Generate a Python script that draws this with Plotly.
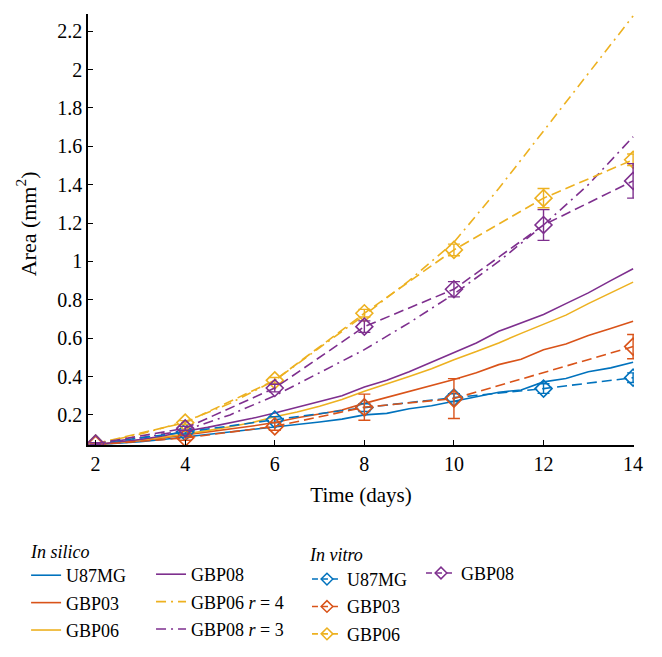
import plotly.graph_objects as go

# ---------------- data ----------------
sim_days = [2, 2.5, 3, 3.5, 4, 4.5, 5, 5.5, 6, 6.5, 7, 7.5, 8, 8.5, 9, 9.5,
            10, 10.5, 11, 11.5, 12, 12.5, 13, 13.5, 14]
sim_u87 = [0.045, 0.052, 0.060, 0.072, 0.085, 0.095, 0.108, 0.122, 0.138, 0.150,
           0.163, 0.178, 0.200, 0.208, 0.232, 0.248, 0.270, 0.295, 0.318, 0.330,
           0.372, 0.390, 0.425, 0.445, 0.474]
sim_gbp03 = [0.045, 0.055, 0.066, 0.080, 0.095, 0.110, 0.125, 0.142, 0.160, 0.185,
             0.205, 0.225, 0.260, 0.290, 0.320, 0.350, 0.384, 0.420, 0.462, 0.490,
             0.540, 0.570, 0.614, 0.650, 0.688]
sim_gbp06 = [0.045, 0.055, 0.068, 0.083, 0.100, 0.118, 0.138, 0.160, 0.190, 0.215,
             0.245, 0.280, 0.323, 0.360, 0.400, 0.440, 0.488, 0.530, 0.575, 0.625,
             0.671, 0.720, 0.780, 0.835, 0.892]
sim_gbp08 = [0.045, 0.058, 0.072, 0.090, 0.115, 0.135, 0.158, 0.182, 0.210, 0.240,
             0.268, 0.300, 0.345, 0.380, 0.425, 0.475, 0.523, 0.575, 0.636, 0.680,
             0.723, 0.780, 0.836, 0.900, 0.962]

r_days = [2, 3, 4, 5, 6, 7, 8, 9, 10, 11, 12, 13, 14]
sim_gbp06_r4 = [0.05, 0.10, 0.165, 0.26, 0.38, 0.55, 0.72, 0.90, 1.10, 1.38, 1.68, 1.98, 2.28]
sim_gbp08_r3 = [0.05, 0.08, 0.12, 0.20, 0.30, 0.42, 0.54, 0.68, 0.83, 1.00, 1.19, 1.40, 1.65]

vitro_days = [2, 4, 6, 8, 10, 12, 14]
vitro_days_gbp03 = [2, 4, 6, 8, 10, 14]
vitro_u87 = [0.050, 0.110, 0.175, 0.238, 0.290, 0.337, 0.394]
vitro_u87_err = [0.005, 0.010, 0.015, 0.020, 0.020, 0.025, 0.025]
vitro_gbp03 = [0.045, 0.080, 0.140, 0.240, 0.285, 0.556]
vitro_gbp03_err = [0.005, 0.012, 0.020, 0.068, 0.104, 0.063]
vitro_gbp06 = [0.050, 0.160, 0.380, 0.730, 1.060, 1.330, 1.530]
vitro_gbp06_err = [0.005, 0.010, 0.015, 0.020, 0.030, 0.050, 0.030]
vitro_gbp08 = [0.050, 0.130, 0.340, 0.660, 0.855, 1.190, 1.420]
vitro_gbp08_err = [0.005, 0.010, 0.020, 0.030, 0.040, 0.080, 0.090]

y_tickvals = [0.2, 0.4, 0.6, 0.8, 1.0, 1.2, 1.4, 1.6, 1.8, 2.0, 2.2]
y_ticktext = ["0.2", "0.4", "0.6", "0.8", "1", "1.2", "1.4", "1.6", "1.8", "2", "2.2"]
x_tickvals = [2, 4, 6, 8, 10, 12, 14]

# ---------------- style ----------------
BLUE = "#0072BD"
ORANGE = "#D95319"
YELLOW = "#EDB120"
PURPLE = "#7E2F8E"
FONT = "Liberation Serif"
DASH = "10px,5px"
DASHDOT = "10px,5px,2px,5px"

# the page body adds an 8px margin, so the figure is 16px smaller than the window
FIG_W, FIG_H = 646, 641

fig = go.Figure()

def sim_trace(x, y, color, name, dash, legend, group):
    fig.add_trace(go.Scatter(
        x=x, y=y, mode="lines", name=name,
        line=dict(color=color, width=1.6, dash=dash),
        legend=legend, legendgroup=group,
    ))

def vitro_trace(x, y, err, color, name, legend, group):
    fig.add_trace(go.Scatter(
        x=x, y=y, mode="lines+markers", name=name, showlegend=False,
        line=dict(color=color, width=1.6, dash=DASH),
        marker=dict(symbol="diamond-open", size=13, color=color,
                    line=dict(width=1.6, color=color)),
        error_y=dict(type="data", array=err, visible=True, color=color,
                     thickness=1.4, width=6),
        legendgroup=group,
    ))
    # legend-only entry with a smaller marker, as in the reference key
    fig.add_trace(go.Scatter(
        x=[None], y=[None], mode="lines+markers", name=name,
        line=dict(color=color, width=1.6, dash="6px,4px"),
        marker=dict(symbol="diamond-open", size=9, color=color,
                    line=dict(width=1.5, color=color)),
        legend=legend, legendgroup=group,
    ))

sim_trace(sim_days, sim_u87, BLUE, "U87MG", "solid", "legend", "s1")
sim_trace(sim_days, sim_gbp03, ORANGE, "GBP03", "solid", "legend", "s2")
sim_trace(sim_days, sim_gbp06, YELLOW, "GBP06", "solid", "legend", "s3")
sim_trace(sim_days, sim_gbp08, PURPLE, "GBP08", "solid", "legend2", "s4")
sim_trace(r_days, sim_gbp06_r4, YELLOW, "GBP06 <i>r</i> = 4", DASHDOT, "legend2", "s5")
sim_trace(r_days, sim_gbp08_r3, PURPLE, "GBP08 <i>r</i> = 3", DASHDOT, "legend2", "s6")

vitro_trace(vitro_days, vitro_u87, vitro_u87_err, BLUE, "U87MG", "legend3", "v1")
vitro_trace(vitro_days_gbp03, vitro_gbp03, vitro_gbp03_err, ORANGE, "GBP03", "legend3", "v2")
vitro_trace(vitro_days, vitro_gbp06, vitro_gbp06_err, YELLOW, "GBP06", "legend3", "v3")
vitro_trace(vitro_days, vitro_gbp08, vitro_gbp08_err, PURPLE, "GBP08", "legend4", "v4")

leg_common = dict(orientation="v", xanchor="left", yanchor="top",
                  xref="container", yref="container",
                  bgcolor="rgba(0,0,0,0)", borderwidth=0,
                  font=dict(family=FONT, size=18, color="#000"),
                  tracegroupgap=1, itemwidth=30)

fig.update_layout(
    width=FIG_W, height=FIG_H,
    margin=dict(l=80, r=20, t=6, b=204, autoexpand=False),
    paper_bgcolor="white", plot_bgcolor="white",
    font=dict(family=FONT, size=20, color="#000"),
    showlegend=True,
    legend=dict(x=0.028, y=0.1435, **leg_common),
    legend2=dict(x=0.2214, y=0.1451, **leg_common),
    legend3=dict(x=0.4628, y=0.1375, **leg_common),
    legend4=dict(x=0.6393, y=0.1470, **leg_common),
    annotations=[
        dict(text="<i>In silico</i>", x=-0.1099, y=-0.2483, xref="paper", yref="paper",
             xanchor="left", yanchor="middle", showarrow=False,
             font=dict(family=FONT, size=18, color="#000")),
        dict(text="<i>In vitro</i>", x=0.4011, y=-0.2552, xref="paper", yref="paper",
             xanchor="left", yanchor="middle", showarrow=False,
             font=dict(family=FONT, size=18, color="#000")),
        dict(text="Area (mm<sup>2</sup>)", x=-0.112, y=0.514, xref="paper", yref="paper",
             xanchor="center", yanchor="middle", textangle=-90, showarrow=False,
             font=dict(family=FONT, size=22, color="#000")),
    ],
)

fig.update_xaxes(
    range=[1.83, 14.02], tickvals=x_tickvals, ticks="inside", ticklen=5,
    tickwidth=1.3, tickcolor="#000", showline=True, linecolor="#000", linewidth=1.6,
    showgrid=False, zeroline=False, mirror=False,
    title=dict(text="Time (days)", font=dict(family=FONT, size=21), standoff=14),
    tickfont=dict(family=FONT, size=20),
)
fig.update_yaxes(
    range=[0.043, 2.29], tickvals=y_tickvals, ticktext=y_ticktext, ticks="inside",
    ticklen=5, tickwidth=1.3, tickcolor="#000", showline=True, linecolor="#000",
    linewidth=1.6, showgrid=False, zeroline=False, mirror=False,
    tickfont=dict(family=FONT, size=20),
)

fig.write_html("out.html")
